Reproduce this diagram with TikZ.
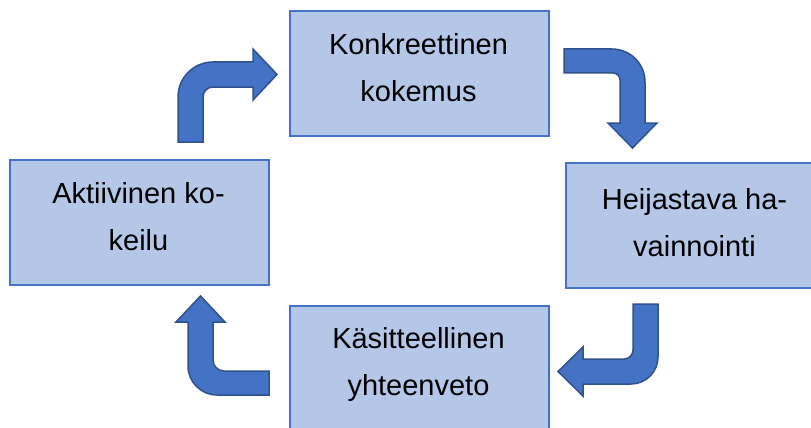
\documentclass[tikz,border=0pt]{standalone}
\usepackage{fontspec}
\setmainfont{Liberation Sans}
\definecolor{boxfill}{HTML}{B4C7E7}
\definecolor{boxline}{HTML}{4472C4}
\definecolor{arrfill}{HTML}{4472C4}
\definecolor{arrline}{HTML}{2F528F}
\begin{document}
\begin{tikzpicture}[x=1pt,y=-1pt,
  stagebox/.style={draw=boxline, fill=boxfill, line width=2pt, minimum width=259pt, minimum height=125pt, inner sep=0pt, anchor=north west},
  stagetext/.style={font=\fontsize{29}{47}\selectfont, align=center, anchor=north, inner sep=0pt},
  bent/.style={fill=arrfill, draw=arrline, line width=1.5pt, line join=miter}]
\useasboundingbox (0,0) rectangle (811,428);
\fill[white] (0,0) rectangle (811,428);
\begin{scope}
\clip (0,0) rectangle (811,428);
\node[stagebox] (topbox) at (289,10) {};
\node[stagebox] (leftbox) at (9,159) {};
\node[stagebox] (rightbox) at (565,162) {};
\node[stagebox] (bottombox) at (289,305) {};
\end{scope}
\node[stagetext] (toptext) at (418.5,21.1) {\strut Konkreettinen\\kokemus};
\node[stagetext] (lefttext) at (138.5,170.1) {\strut Aktiivinen ko-\\keilu};
\node[stagetext] (righttext) at (694.5,176.1) {\strut Heijastava ha-\\vainnointi};
\node[stagetext] (bottomtext) at (418.5,315.1) {\strut Käsitteellinen\\yhteenveto};
% arrow: left -> top
\draw[bent] (178,142) -- (178,97) .. controls (178,77.7) and (193.7,62) .. (213,62) -- (253,62) -- (253,49) -- (277,74.5) -- (253,100) -- (253,87) -- (213,87) .. controls (207.5,87) and (203,91.5) .. (203,97) -- (203,142) -- cycle;
% arrow: top -> right
\draw[bent] (564,49) -- (612,49) .. controls (630.2,49) and (645,63.8) .. (645,82) -- (645,123) -- (657,123) -- (632.5,148) -- (608,123) -- (620,123) -- (620,80) .. controls (620,76.1) and (616.9,73) .. (613,73) -- (564,73) -- cycle;
% arrow: right -> bottom
\draw[bent] (658,304) -- (658,357) .. controls (658,371.9) and (645.9,384) .. (631,384) -- (583,384) -- (583,396) -- (558,371.5) -- (583,347) -- (583,359) -- (624,359) .. controls (629,359) and (633,355) .. (633,350) -- (633,304) -- cycle;
% arrow: bottom -> left
\draw[bent] (269,395) -- (217,395) .. controls (201,395) and (188,382) .. (188,366) -- (188,322) -- (176,322) -- (200.5,296) -- (225,322) -- (213,322) -- (213,360) .. controls (213,366.1) and (217.9,371) .. (224,371) -- (269,371) -- cycle;
\end{tikzpicture}
\end{document}
